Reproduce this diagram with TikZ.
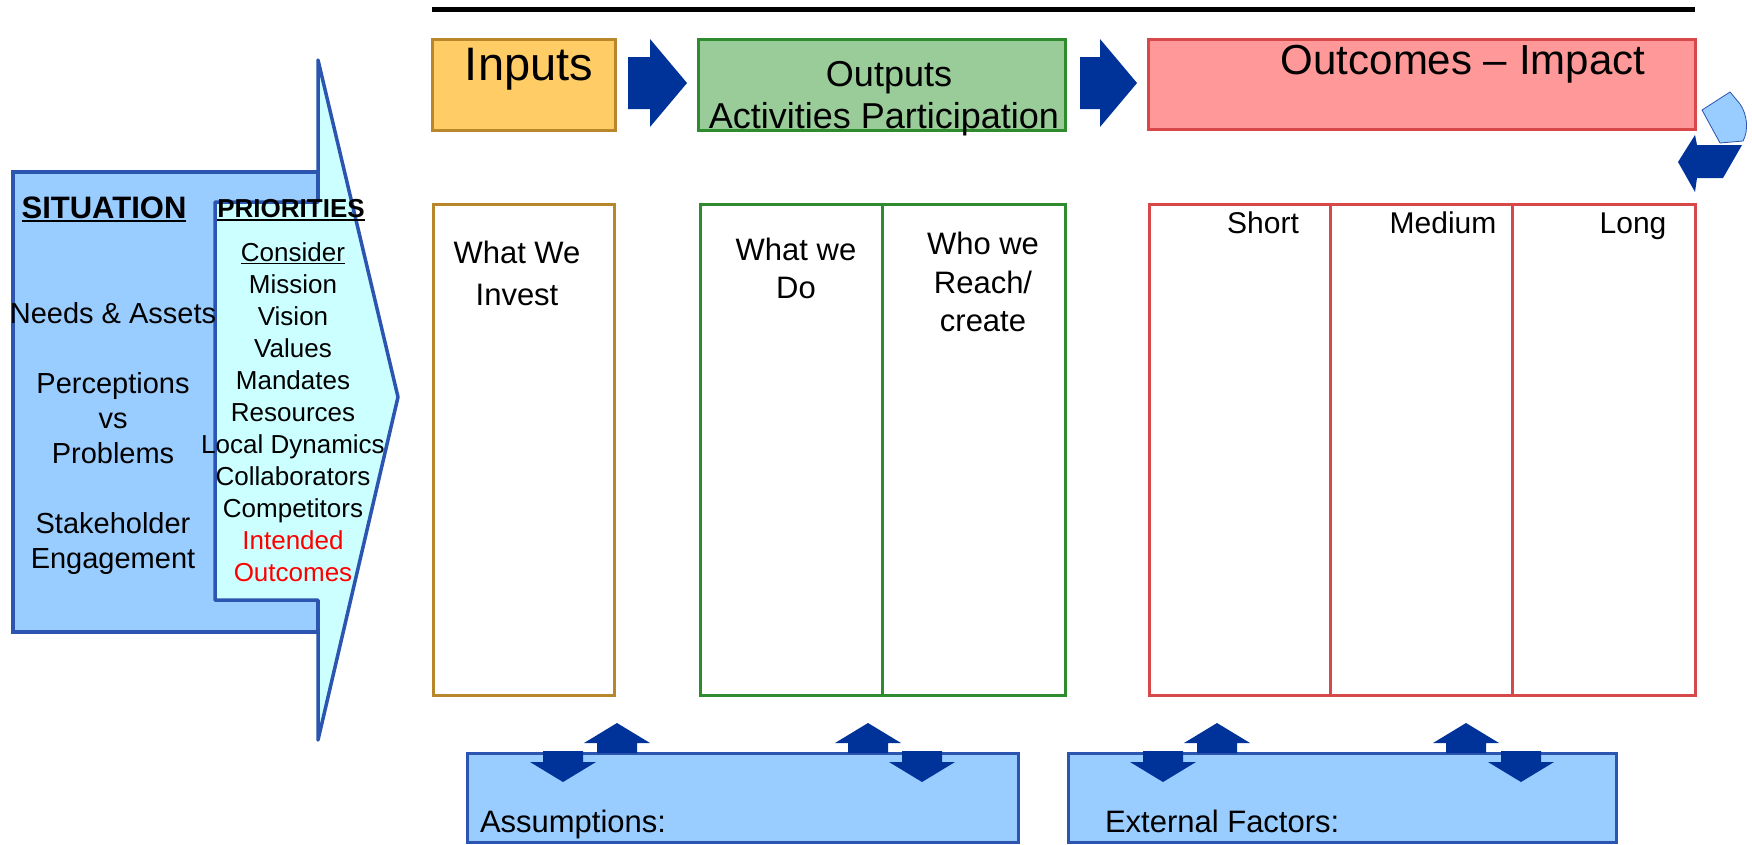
\documentclass[tikz,border=0pt]{standalone}
\usepackage{fontspec}
\setmainfont{Liberation Sans}
\definecolor{sitfill}{HTML}{99CCFF}
\definecolor{prifill}{HTML}{CCFFFF}
\definecolor{bordblue}{HTML}{2B55B0}
\definecolor{darkarrow}{HTML}{003399}
\definecolor{infill}{HTML}{FFCC66}
\definecolor{inbord}{HTML}{B8862B}
\definecolor{outfill}{HTML}{99CC99}
\definecolor{outbord}{HTML}{2E8B2E}
\definecolor{ocfill}{HTML}{FF9999}
\definecolor{ocbord}{HTML}{D94848}
\definecolor{redtxt}{HTML}{FF0000}
\begin{document}
\begin{tikzpicture}[x=1pt,y=-1pt,
  box/.style={draw, inner sep=0pt, outer sep=0pt, anchor=north west},
  txt/.style={inner sep=0pt, outer sep=0pt, anchor=base, text=black},
  sittxt/.style={txt, font=\fontsize{29}{35}\selectfont},
  pritxt/.style={txt, font=\fontsize{26}{32}\selectfont},
  coltxt/.style={txt, font=\fontsize{31}{37}\selectfont},
  octxt/.style={txt, font=\fontsize{30}{36}\selectfont},
  bottxt/.style={inner sep=0pt, outer sep=0pt, anchor=base west, font=\fontsize{31}{37}\selectfont},
  blockarrow/.style={fill=darkarrow, draw=none}]
\useasboundingbox (0,0) rectangle (1752,844);
\fill[white] (0,0) rectangle (1752,844);

% top rule
\draw[line width=5pt, black] (432,9) -- (1695,9);

% top boxes
\node[box, fill=infill, draw=inbord, line width=3pt, minimum width=183pt, minimum height=91pt] (inbox) at (432,39) {};
\node[box, fill=outfill, draw=outbord, line width=3pt, minimum width=367pt, minimum height=91pt] (outbox) at (698,39) {};
\node[box, fill=ocfill, draw=ocbord, line width=3pt, minimum width=547pt, minimum height=90pt] (ocbox) at (1148,39) {};

\node[txt, font=\fontsize{47}{56}\selectfont] (intxt) at (529,80) {Inputs};
\node[txt, font=\fontsize{36}{43}\selectfont] (outtxta) at (889,86) {Outputs};
\node[txt, font=\fontsize{36}{43}\selectfont] (outtxtb) at (884,128) {Activities Participation};
\node[txt, font=\fontsize{42}{50}\selectfont] (octxt) at (1463,74) {Outcomes – Impact};

% block arrows between top boxes
\fill[blockarrow] (628,57) -- (650,57) -- (650,39) -- (687,83) -- (650,127) -- (650,109) -- (628,109) -- cycle;
\fill[blockarrow] (1080,57) -- (1100,57) -- (1100,39) -- (1137,83) -- (1100,127) -- (1100,109) -- (1080,109) -- cycle;

% curved return arrow
\draw[fill=sitfill, draw=bordblue, line width=0.8pt, line join=round] (1702,110) -- (1730,92) -- (1740,104) .. controls (1747,114) and (1749,130) .. (1743,141) -- (1720,143) -- cycle;
\fill[blockarrow] (1678,162) -- (1695,135) -- (1697,145) -- (1742,145) -- (1723,178) -- (1697,178) -- (1695,192) -- cycle;

% columns
\node[box, draw=inbord, line width=3pt, minimum width=181pt, minimum height=491pt] (incol) at (433,204) {};
\node[box, draw=outbord, line width=3pt, minimum width=365pt, minimum height=491pt] (outcol) at (700,204) {};
\node[box, draw=ocbord, line width=3pt, minimum width=546pt, minimum height=491pt] (occol) at (1149,204) {};
\coordinate (outdiv) at (882,204);
\coordinate (ocdiva) at (1330,204);
\coordinate (ocdivb) at (1512,204);
\draw[outbord, line width=3pt] (outdiv) -- (outdiv |- outcol.south);
\draw[ocbord, line width=3pt] (ocdiva) -- (ocdiva |- occol.south);
\draw[ocbord, line width=3pt] (ocdivb) -- (ocdivb |- occol.south);

\node[coltxt] (wwia) at (517,263) {What We};
\node[coltxt] (wwib) at (517,305) {Invest};
\node[coltxt] (wwda) at (796,260) {What we};
\node[coltxt] (wwdb) at (796,298) {Do};
\node[coltxt] (wwra) at (983,254) {Who we};
\node[coltxt] (wwrb) at (983,293) {Reach/};
\node[coltxt] (wwrc) at (983,331) {create};
\node[octxt] (short) at (1263,233) {Short};
\node[octxt] (medium) at (1443,233) {Medium};
\node[octxt] (long) at (1633,233) {Long};

% situation / priorities arrow
\node[box, fill=sitfill, draw=bordblue, line width=4pt, minimum width=305pt, minimum height=460pt] (sitbox) at (13,172) {};
\draw[fill=prifill, draw=bordblue, line width=3.5pt, line join=round] (215,202) -- (318,202) -- (318,60) -- (398,397) -- (318,740) -- (318,600) -- (215,600) -- cycle;

\node[txt, font=\bfseries\fontsize{31}{37}\selectfont] (sit) at (104,218) {SITUATION};
\draw[line width=2pt] ([yshift=-2.5pt]sit.base west) -- ([yshift=-2.5pt]sit.base east);
\node[txt, font=\bfseries\fontsize{26}{31}\selectfont] (pri) at (291,217) {PRIORITIES};
\draw[line width=2pt] ([yshift=-2.5pt]pri.base west) -- ([yshift=-2.5pt]pri.base east);

\node[sittxt] (needs) at (113,323) {Needs \& Assets};
\node[sittxt] (perc) at (113,393) {Perceptions};
\node[sittxt] (vs) at (113,428) {vs};
\node[sittxt] (prob) at (113,463) {Problems};
\node[sittxt] (stake) at (113,533) {Stakeholder};
\node[sittxt] (engage) at (113,568) {Engagement};

\node[pritxt] (consider) at (293,261) {Consider};
\draw[line width=1.5pt] ([yshift=-2.5pt]consider.base west) -- ([yshift=-2.5pt]consider.base east);
\foreach \t [count=\i] in {Mission,Vision,Values,Mandates,Resources,Local Dynamics,Collaborators,Competitors} {
  \node[pritxt] (pri\i) at (293,261+32*\i) {\t};
}
\node[pritxt, text=redtxt] (intended) at (293,549) {Intended};
\node[pritxt, text=redtxt] (intout) at (293,581) {Outcomes};

% bottom boxes
\node[box, fill=sitfill, draw=bordblue, line width=3pt, minimum width=551pt, minimum height=89pt] (assum) at (467,753) {};
\node[box, fill=sitfill, draw=bordblue, line width=3pt, minimum width=548pt, minimum height=89pt] (extf) at (1068,753) {};
\node[bottxt] (assumtxt) at (480,832) {Assumptions:};
\node[bottxt] (extftxt) at (1105,832) {External Factors:};

% up / down arrows
\foreach \u/\d in {617/563, 868/922, 1217/1163, 1466/1521} {
  \fill[blockarrow] (\u-20,753) -- (\u-20,743) -- (\u-33,743) -- (\u,723) -- (\u+33,743) -- (\u+20,743) -- (\u+20,753) -- cycle;
  \fill[blockarrow] (\d-20,751) -- (\d+20,751) -- (\d+20,762) -- (\d+33,762) -- (\d,782) -- (\d-33,762) -- (\d-20,762) -- cycle;
}
\end{tikzpicture}
\end{document}
